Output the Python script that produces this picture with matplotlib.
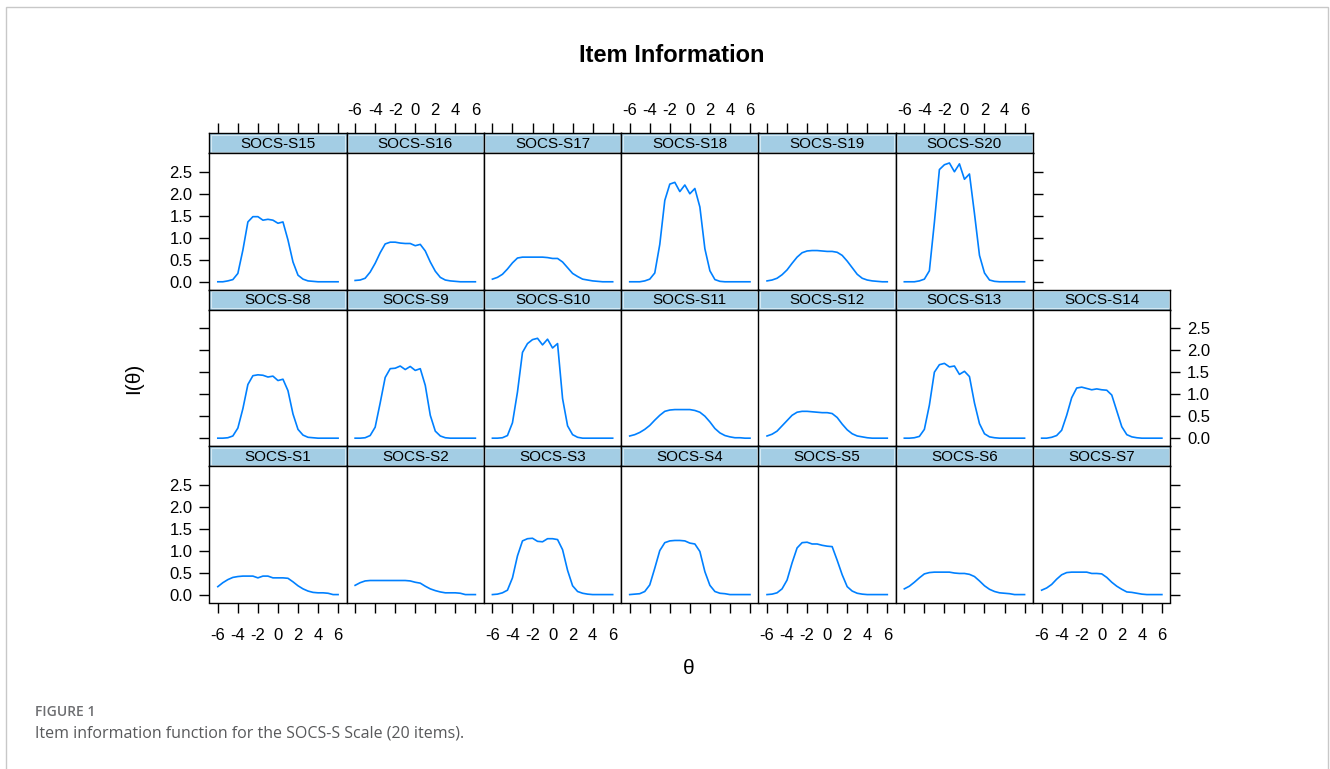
import matplotlib
matplotlib.use("Agg")
import matplotlib.pyplot as plt
from matplotlib.patches import Rectangle

# theta grid shared by every item
theta = [-6.0, -5.5, -5.0, -4.5, -4.0, -3.5, -3.0, -2.5, -2.0, -1.5, -1.0, -0.5,
         0.0, 0.5, 1.0, 1.5, 2.0, 2.5, 3.0, 3.5, 4.0, 4.5, 5.0, 5.5, 6.0]

# item information values
s1 = [0.18, 0.27, 0.34, 0.39, 0.41, 0.42, 0.42, 0.42, 0.38, 0.42, 0.42, 0.38, 0.38,
      0.38, 0.37, 0.29, 0.20, 0.13, 0.08, 0.05, 0.04, 0.04, 0.03, 0.00, 0.00]
s2 = [0.21, 0.27, 0.31, 0.32, 0.32, 0.32, 0.32, 0.32, 0.32, 0.32, 0.32, 0.31, 0.28,
      0.26, 0.19, 0.13, 0.09, 0.06, 0.04, 0.04, 0.04, 0.03, 0.00, 0.00, 0.00]
s3 = [0.00, 0.01, 0.04, 0.10, 0.38, 0.88, 1.22, 1.27, 1.28, 1.21, 1.20, 1.27, 1.27,
      1.25, 1.02, 0.55, 0.20, 0.07, 0.03, 0.01, 0.00, 0.00, 0.00, 0.00, 0.00]
s4 = [0.00, 0.01, 0.02, 0.07, 0.22, 0.60, 1.00, 1.18, 1.22, 1.23, 1.23, 1.22, 1.17,
      1.15, 0.98, 0.52, 0.21, 0.07, 0.03, 0.02, 0.00, 0.00, 0.00, 0.00, 0.00]
s5 = [0.00, 0.01, 0.04, 0.13, 0.33, 0.72, 1.06, 1.18, 1.19, 1.15, 1.15, 1.12, 1.10,
      1.09, 0.78, 0.45, 0.18, 0.08, 0.03, 0.01, 0.00, 0.00, 0.00, 0.00, 0.00]
s6 = [0.13, 0.19, 0.28, 0.38, 0.47, 0.50, 0.51, 0.51, 0.51, 0.51, 0.49, 0.48, 0.48,
      0.46, 0.41, 0.31, 0.20, 0.12, 0.07, 0.04, 0.03, 0.02, 0.00, 0.00, 0.00]
s7 = [0.10, 0.15, 0.23, 0.35, 0.45, 0.50, 0.51, 0.51, 0.51, 0.51, 0.48, 0.48, 0.47,
      0.39, 0.28, 0.19, 0.12, 0.06, 0.05, 0.03, 0.01, 0.00, 0.00, 0.00, 0.00]
s8 = [0.00, 0.00, 0.01, 0.05, 0.23, 0.67, 1.22, 1.42, 1.44, 1.43, 1.39, 1.41, 1.31,
      1.34, 1.08, 0.55, 0.20, 0.07, 0.02, 0.01, 0.00, 0.00, 0.00, 0.00, 0.00]
s9 = [0.00, 0.00, 0.01, 0.06, 0.25, 0.80, 1.38, 1.58, 1.59, 1.64, 1.56, 1.63, 1.54,
      1.58, 1.20, 0.52, 0.16, 0.05, 0.01, 0.00, 0.00, 0.00, 0.00, 0.00, 0.00]
s10 = [0.00, 0.00, 0.01, 0.06, 0.35, 1.05, 1.95, 2.15, 2.24, 2.27, 2.12, 2.25, 2.05,
       2.15, 0.90, 0.28, 0.08, 0.02, 0.00, 0.00, 0.00, 0.00, 0.00, 0.00, 0.00]
s11 = [0.05, 0.08, 0.13, 0.20, 0.29, 0.41, 0.52, 0.61, 0.64, 0.65, 0.65, 0.65, 0.65,
       0.63, 0.59, 0.50, 0.37, 0.22, 0.12, 0.06, 0.03, 0.01, 0.01, 0.00, 0.00]
s12 = [0.05, 0.09, 0.16, 0.28, 0.40, 0.52, 0.59, 0.61, 0.61, 0.60, 0.59, 0.58, 0.58,
       0.56, 0.47, 0.32, 0.19, 0.10, 0.05, 0.03, 0.01, 0.00, 0.00, 0.00, 0.00]
s13 = [0.00, 0.00, 0.01, 0.04, 0.20, 0.75, 1.50, 1.67, 1.70, 1.62, 1.64, 1.45, 1.52,
       1.40, 0.80, 0.33, 0.10, 0.03, 0.01, 0.00, 0.00, 0.00, 0.00, 0.00, 0.00]
s14 = [0.00, 0.00, 0.02, 0.06, 0.18, 0.52, 0.92, 1.14, 1.16, 1.13, 1.10, 1.12, 1.10,
       1.09, 0.98, 0.62, 0.26, 0.08, 0.03, 0.01, 0.00, 0.00, 0.00, 0.00, 0.00]
s15 = [0.00, 0.00, 0.02, 0.05, 0.19, 0.72, 1.36, 1.48, 1.48, 1.40, 1.42, 1.40, 1.33,
       1.36, 0.95, 0.45, 0.15, 0.06, 0.02, 0.01, 0.00, 0.00, 0.00, 0.00, 0.00]
s16 = [0.03, 0.04, 0.08, 0.22, 0.42, 0.66, 0.86, 0.90, 0.90, 0.88, 0.87, 0.87, 0.82,
       0.85, 0.70, 0.45, 0.24, 0.10, 0.04, 0.02, 0.01, 0.00, 0.00, 0.00, 0.00]
s17 = [0.06, 0.10, 0.17, 0.29, 0.43, 0.54, 0.56, 0.56, 0.56, 0.56, 0.56, 0.55, 0.53,
       0.53, 0.45, 0.32, 0.19, 0.12, 0.06, 0.04, 0.02, 0.01, 0.00, 0.00, 0.00]
s18 = [0.00, 0.00, 0.00, 0.02, 0.06, 0.20, 0.85, 1.85, 2.22, 2.26, 2.05, 2.20, 2.00,
       2.12, 1.70, 0.75, 0.25, 0.05, 0.01, 0.00, 0.00, 0.00, 0.00, 0.00, 0.00]
s19 = [0.02, 0.04, 0.08, 0.16, 0.27, 0.42, 0.56, 0.66, 0.70, 0.71, 0.71, 0.70, 0.69,
       0.69, 0.67, 0.60, 0.47, 0.32, 0.17, 0.08, 0.04, 0.02, 0.01, 0.00, 0.00]
s20 = [0.00, 0.00, 0.00, 0.02, 0.06, 0.25, 1.35, 2.55, 2.66, 2.70, 2.50, 2.68, 2.33,
       2.45, 1.55, 0.60, 0.20, 0.04, 0.01, 0.00, 0.00, 0.00, 0.00, 0.00, 0.00]

# lattice layout, top row first
rows = [
    [("SOCS-S15", s15), ("SOCS-S16", s16), ("SOCS-S17", s17), ("SOCS-S18", s18),
     ("SOCS-S19", s19), ("SOCS-S20", s20)],
    [("SOCS-S8", s8), ("SOCS-S9", s9), ("SOCS-S10", s10), ("SOCS-S11", s11),
     ("SOCS-S12", s12), ("SOCS-S13", s13), ("SOCS-S14", s14)],
    [("SOCS-S1", s1), ("SOCS-S2", s2), ("SOCS-S3", s3), ("SOCS-S4", s4),
     ("SOCS-S5", s5), ("SOCS-S6", s6), ("SOCS-S7", s7)],
]

x_ticks = [-6, -4, -2, 0, 2, 4, 6]
y_ticks = [0.0, 0.5, 1.0, 1.5, 2.0, 2.5]

W, H = 1330, 769
X0, PW = 209.3, 137.3      # first column left edge, panel width (px)
Y0, RH, SH = 133.3, 156.4, 20.0   # first strip top, row height, strip height

plain = ["Liberation Sans", "DejaVu Sans"]
plt.rcParams["font.family"] = plain
plt.rcParams["axes.unicode_minus"] = False

fig = plt.figure(figsize=(W / 100, H / 100), dpi=100)


def box(left, top, width, height):
    return [left / W, 1 - (top + height) / H, width / W, height / H]


def style_ticks(ax, tick_fs=12):
    ax.tick_params(which="both", direction="out", length=7, width=1.0,
                   color="black", labelsize=tick_fs, bottom=False, top=False,
                   left=False, right=False, labelbottom=False, labeltop=False,
                   labelleft=False, labelright=False)
    for sp in ax.spines.values():
        sp.set_linewidth(1.0)
        sp.set_color("black")


for r, items in enumerate(rows):
    ncol = len(items)
    for c, (name, vals) in enumerate(items):
        left = X0 + c * PW
        top = Y0 + r * RH

        # strip
        st = fig.add_axes(box(left, top, PW, SH))
        st.set_facecolor("#a3cde4")
        st.set_xlim(-6.85, 6.85)
        st.set_ylim(0, 1)
        st.set_yticks([])
        style_ticks(st)
        st.add_patch(Rectangle((0.01, 0.08), 0.98, 0.84, transform=st.transAxes,
                               fill=False, edgecolor="#d4e9f4", linewidth=0.8))
        st.text(0.5, 0.47, name, transform=st.transAxes, ha="center", va="center",
                fontsize=11)
        st.set_xticks(x_ticks)
        if r == 0:
            st.tick_params(top=True, labeltop=(c % 2 == 1), pad=4)
        else:
            st.set_xticks([])

        # panel
        ax = fig.add_axes(box(left, top + SH, PW, RH - SH))
        ax.plot(theta, vals, color="#0080ff", linewidth=1.2)
        ax.set_xlim(-6.85, 6.85)
        ax.set_ylim(-0.18, 2.92)
        ax.set_xticks(x_ticks)
        ax.set_yticks(y_ticks)
        ax.set_yticklabels([f"{v:.1f}" for v in y_ticks])
        style_ticks(ax)
        if r == len(rows) - 1:
            ax.tick_params(axis="x", bottom=True, labelbottom=(c % 2 == 0), pad=11)
        if c == 0:
            ax.tick_params(axis="y", left=True, labelleft=(r != 1), pad=5)
        if c == ncol - 1:
            ax.tick_params(axis="y", right=True, labelright=(r == 1), pad=5)

# titles and axis labels
fig.text(672 / W, 1 - 55 / H, "Item Information", ha="center", va="center",
         fontsize=17, fontweight="bold")
fig.text(134 / W, 1 - 378 / H, "I(θ)", ha="center", va="center", rotation=90,
         fontsize=15)
fig.text(689 / W, 1 - 668 / H, "θ", ha="center", va="center", fontsize=15)

# outer frame and caption
fig.add_artist(Rectangle((6 / W, -0.1), (1328 - 6) / W, 1.1 - 7 / H,
                         transform=fig.transFigure, fill=False,
                         edgecolor="#c8c8c8", linewidth=1.0))
fig.text(35 / W, 1 - 712 / H, "FIGURE 1", ha="left", va="center", fontsize=10,
         color="#6d6e71", fontweight="semibold",
         family=["Open Sans", "DejaVu Sans"])
fig.text(35 / W, 1 - 734 / H,
         "Item information function for the SOCS-S Scale (20 items).",
         ha="left", va="center", fontsize=11.5, color="#58595b",
         family=["Open Sans", "DejaVu Sans"])

fig.savefig("out.png", dpi=100)
